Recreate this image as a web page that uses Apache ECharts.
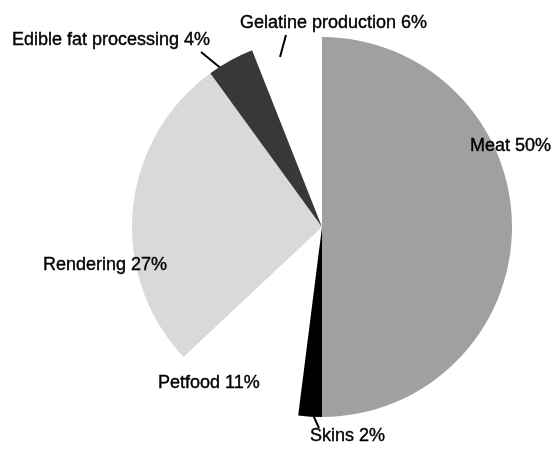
<!DOCTYPE html>
<html>
<head>
<meta charset="utf-8">
<script src="https://cdn.jsdelivr.net/npm/echarts@6/dist/echarts.min.js"></script>
<style>
  html, body { margin: 0; padding: 0; background: #fff; }
  #main { width: 554px; height: 449px; }
</style>
</head>
<body>
<div id="main"></div>
<script>
// slices, clockwise from 12 o'clock
var names = ['Meat', 'Skins', 'Petfood', 'Rendering', 'Edible fat processing', 'Gelatine production'];
var shares = [50, 2, 11, 27, 4, 6];
// petfood and gelatine are left blank on the page
var colors = ['#a0a0a0', '#000000', 'rgba(255,255,255,0)', '#d9d9d9', '#383838', 'rgba(255,255,255,0)'];

// where each label sits (left edge, middle) and its leader line, if any
var labelPos = [
    {x: 470, y: 146},
    {x: 310, y: 436, line: [[307, 402], [319, 428]]},
    {x: 158, y: 383},
    {x: 43, y: 265},
    {x: 12, y: 40, line: [[201, 52], [223, 70]]},
    {x: 240, y: 23, line: [[286, 35], [280, 57]]}
];

var myChart = echarts.init(document.getElementById('main'));

var pieData = [];
for (var i = 0; i < names.length; i++) {
    pieData.push({
        name: names[i],
        value: shares[i],
        itemStyle: {color: colors[i]},
        labelLine: {
            show: !!labelPos[i].line,
            lineStyle: {color: '#000', width: 2}
        }
    });
}

var options = {
    animation: false,
    series: [{
        type: 'pie',
        center: [322, 227],
        radius: [0, 190],
        startAngle: 90,
        clockwise: true,
        avoidLabelOverlap: false,
        data: pieData,
        label: {
            show: true,
            position: 'outside',
            formatter: '{b} {c}%',
            fontFamily: 'Liberation Sans, Arial, sans-serif',
            fontSize: 18,
            color: '#000',
            textBorderColor: '#000',
            textBorderWidth: 0.4
        },
        emphasis: {disabled: true}
    }]
};

options.series[0].labelLayout = function (params) {
    var p = labelPos[params.dataIndex];
    var out = {x: p.x, y: p.y, align: 'left', verticalAlign: 'middle'};
    if (p.line) {
        out.labelLinePoints = p.line.concat([p.line[1]]);
    }
    return out;
};

myChart.setOption(options);
</script>
</body>
</html>
